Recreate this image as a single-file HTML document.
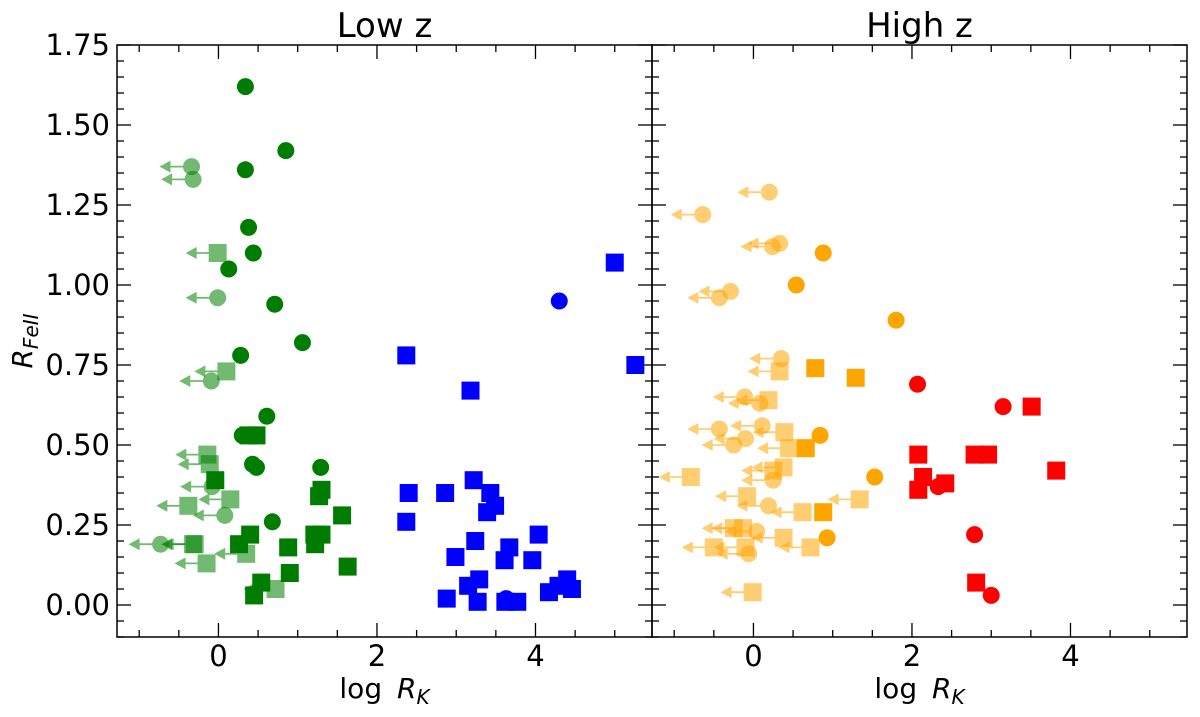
<!DOCTYPE html>
<html><head><meta charset="utf-8"><style>
html,body{margin:0;padding:0;background:#fff;}
svg{display:block;font-family:"DejaVu Sans","Liberation Sans",sans-serif;}
</style></head><body>
<svg id="chart" width="1200" height="717" xmlns="http://www.w3.org/2000/svg"></svg>
<script>
// ---- data (log R_K, R_FeII) ----
const greenCircleX=[0.34,0.85,0.34,0.38,0.44,0.13,0.71,1.06,0.28,0.61,0.30,0.43,0.48,1.29,0.68];
const greenCircleY=[1.62,1.42,1.36,1.18,1.10,1.05,0.94,0.82,0.78,0.59,0.53,0.44,0.43,0.43,0.26];
const greenSquareX=[0.38,0.48,-0.04,0.40,0.26,0.88,1.30,1.27,1.56,1.21,1.30,1.22,1.63,0.90,0.54,0.45];
const greenSquareY=[0.53,0.53,0.39,0.22,0.19,0.18,0.36,0.34,0.28,0.22,0.22,0.19,0.12,0.10,0.07,0.03];
const greenLimCircleX=[-0.34,-0.32,-0.01,-0.09,-0.08,0.08,-0.73];
const greenLimCircleY=[1.37,1.33,0.96,0.70,0.37,0.28,0.19];
const greenLimSquareX=[-0.01,0.10,-0.14,-0.11,0.15,-0.38,-0.32,-0.30,0.35,-0.15,0.72];
const greenLimSquareY=[1.10,0.73,0.47,0.44,0.33,0.31,0.19,0.19,0.16,0.13,0.05];
const blueSquareX=[5.0,5.26,2.37,3.18,2.40,2.86,3.22,3.43,3.49,3.39,2.37,3.24,2.99,3.67,3.61,3.96,4.04,3.29,3.15,2.88,3.27,3.62,3.77,4.17,4.29,4.40,4.46];
const blueSquareY=[1.07,0.75,0.78,0.67,0.35,0.35,0.39,0.35,0.31,0.29,0.26,0.20,0.15,0.18,0.14,0.14,0.22,0.08,0.06,0.02,0.01,0.01,0.01,0.04,0.06,0.08,0.05];
const blueCircleX=[4.30,3.63];
const blueCircleY=[0.95,0.02];
const redSquareX=[3.51,3.82,2.08,2.79,2.96,2.14,2.08,2.42,2.81];
const redSquareY=[0.62,0.42,0.47,0.47,0.47,0.40,0.36,0.38,0.07];
const redCircleX=[2.07,3.15,2.33,2.79,3.00];
const redCircleY=[0.69,0.62,0.37,0.22,0.03];
const orangeCircleX=[0.88,0.54,1.80,0.84,1.53,0.93];
const orangeCircleY=[1.10,1.00,0.89,0.53,0.40,0.21];
const orangeSquareX=[0.78,1.29,0.66,0.88];
const orangeSquareY=[0.74,0.71,0.49,0.29];
const orangeLimCircleX=[0.20,-0.64,0.33,0.24,-0.29,-0.43,0.35,-0.11,0.08,-0.43,0.11,-0.10,-0.25,0.25,0.19,0.04,-0.06];
const orangeLimCircleY=[1.29,1.22,1.13,1.12,0.98,0.96,0.77,0.65,0.63,0.55,0.56,0.52,0.50,0.39,0.31,0.23,0.16];
const orangeLimSquareX=[0.33,0.19,0.39,0.45,0.38,0.25,-0.79,-0.08,1.34,0.62,-0.25,-0.13,0.38,-0.50,-0.10,0.72,-0.01];
const orangeLimSquareY=[0.73,0.64,0.54,0.49,0.43,0.42,0.40,0.34,0.33,0.29,0.24,0.24,0.21,0.18,0.18,0.18,0.04];
const xTicks=[0,2,4];
const yTicks=[0,0.25,0.5,0.75,1.0,1.25,1.5,1.75];

const NS="http://www.w3.org/2000/svg";
const svg=document.getElementById('chart');
function el(tag,attrs,parent){const e=document.createElementNS(NS,tag);for(const k in attrs)e.setAttribute(k,attrs[k]);(parent||svg).appendChild(e);return e;}
const T=45,B=637,XMIN=-1.28,XMAX=5.47,YMIN=-0.1,YMAX=1.75;
const panels=[{L:117,R:652,name:'low-z',title:'Low z'},{L:652,R:1187,name:'high-z',title:'High z'}];
function sx(p,v){return p.L+(v-XMIN)/(XMAX-XMIN)*(p.R-p.L);}
function sy(v){return B-(v-YMIN)/(YMAX-YMIN)*(B-T);}

function drawPanel(p,idx){
  const g=el('g',{});
  
  
  for(let i=-2;i<=35;i++){const v=i*0.05,y=sy(v);if(y<T-0.5||y>B)continue;const major=i%5===0;const len=major?14:7;
    el('line',{x1:p.L,x2:p.L+len,y1:y,y2:y,stroke:'#000','stroke-width':1.3},g);
    el('line',{x1:p.R,x2:p.R-len,y1:y,y2:y,stroke:'#000','stroke-width':1.3},g);}
  for(let i=-2;i<=10;i++){const v=i*0.5,x=sx(p,v);if(x<=p.L||x>=p.R)continue;const major=i%4===0;const len=major?14:7;
    el('line',{x1:x,x2:x,y1:B,y2:B-len,stroke:'#000','stroke-width':1.3},g);
    el('line',{x1:x,x2:x,y1:T,y2:T+len,stroke:'#000','stroke-width':1.3},g);}
  el('rect',{x:p.L,y:T,width:p.R-p.L,height:B-T,fill:'none',stroke:'#000','stroke-width':1.5},g);
  xTicks.forEach(v=>{const t=el('text',{x:sx(p,v),y:B+29,'text-anchor':'middle','font-size':29},g);t.textContent=v;
    
    });
  const xt=el('text',{x:(p.L+p.R)/2,y:B+61,'text-anchor':'middle','font-size':28},g);
  
  
  xt.innerHTML='log <tspan dx="6" font-style="italic">R</tspan><tspan font-style="italic" font-size="20" dy="6">K</tspan>';
  const tt=el('text',{x:(p.L+p.R)/2,y:37,'text-anchor':'middle','font-size':34},g);
  tt.textContent=p.title;
  
  
}
panels.forEach(drawPanel);
yTicks.forEach(v=>{const t=el('text',{x:110,y:sy(v)+10,'text-anchor':'end','font-size':29});t.textContent=v.toFixed(2);
  
  });
const yt=el('text',{transform:'translate(32,341) rotate(-90)','text-anchor':'middle','font-size':28});


yt.innerHTML='<tspan font-style="italic">R</tspan><tspan font-style="italic" font-size="20" dy="6">FeII</tspan>';

function marker(p,x,y,shape,color,alpha,limit,name){
  const cx=sx(p,x),cy=sy(y);
  const g=el('g',{opacity:alpha});
  
  
  if(shape==='c')el('circle',{cx:cx,cy:cy,r:8.5,fill:color},g);
  else el('rect',{x:cx-9,y:cy-9,width:18,height:18,fill:color},g);
  if(limit){
    el('line',{x1:cx,x2:cx-22,y1:cy,y2:cy,stroke:color,'stroke-width':1.8},g);
    el('polygon',{points:`${cx-32},${cy} ${cx-21},${cy-6} ${cx-21},${cy+6}`,fill:color},g);
    el('line',{x1:cx,x2:cx,y1:cy-7,y2:cy+7,stroke:color,'stroke-width':1.8},g);
  }
}
function series(p,xs,ys,shape,color,alpha,limit,name){xs.forEach((x,i)=>marker(p,x,ys[i],shape,color,alpha,limit,name));}
const P0=panels[0],P1=panels[1];
series(P0,greenLimCircleX,greenLimCircleY,'c','#008000',0.55,true,'green-upper-limit-circle');
series(P0,greenLimSquareX,greenLimSquareY,'s','#008000',0.55,true,'green-upper-limit-square');
series(P0,greenCircleX,greenCircleY,'c','#007d00',1,false,'green-circle');
series(P0,greenSquareX,greenSquareY,'s','#007d00',1,false,'green-square');
series(P0,blueSquareX,blueSquareY,'s','#0000ff',1,false,'blue-square');
series(P0,blueCircleX,blueCircleY,'c','#0000ff',1,false,'blue-circle');
series(P1,orangeLimCircleX,orangeLimCircleY,'c','#ffa500',0.55,true,'orange-upper-limit-circle');
series(P1,orangeLimSquareX,orangeLimSquareY,'s','#ffa500',0.55,true,'orange-upper-limit-square');
series(P1,orangeCircleX,orangeCircleY,'c','#ffa500',1,false,'orange-circle');
series(P1,orangeSquareX,orangeSquareY,'s','#ffa500',1,false,'orange-square');
series(P1,redSquareX,redSquareY,'s','#ff0000',1,false,'red-square');
series(P1,redCircleX,redCircleY,'c','#ff0000',1,false,'red-circle');
</script>
</body></html>
